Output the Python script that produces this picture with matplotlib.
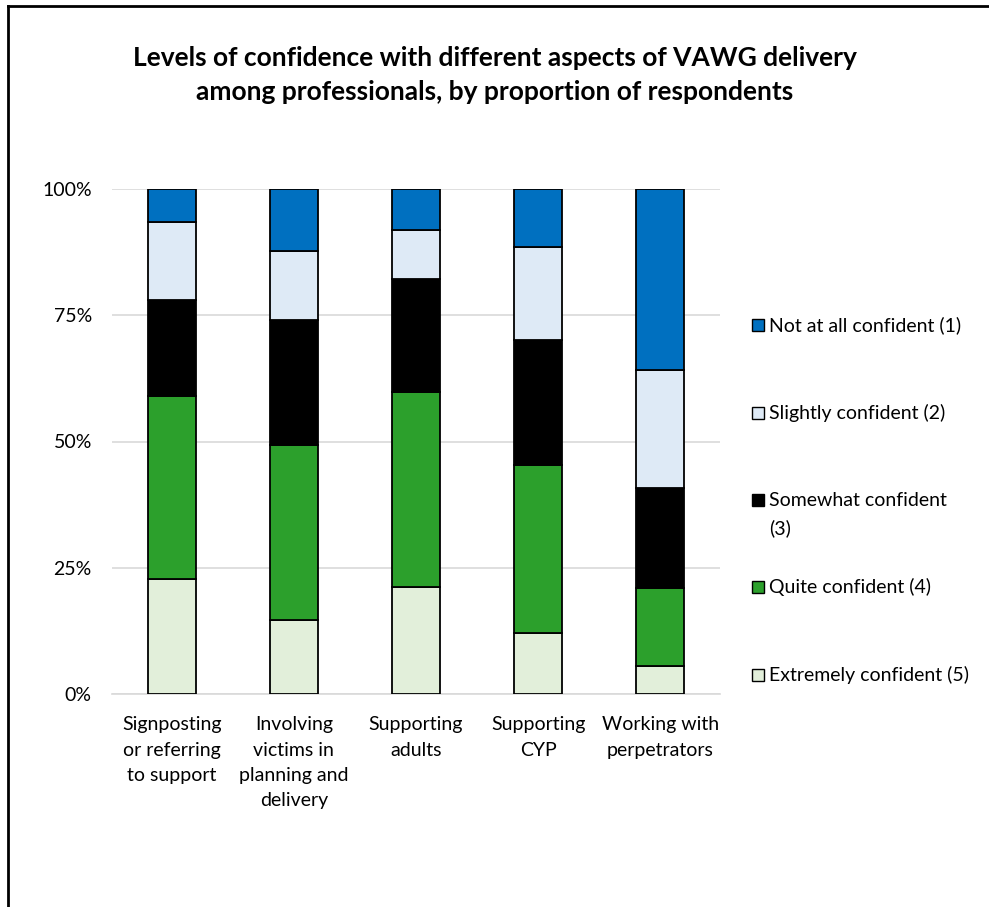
import matplotlib
matplotlib.use('Agg')
import matplotlib.pyplot as plt
from matplotlib.lines import Line2D
from matplotlib.patches import Rectangle
import numpy as np

plt.rcParams['font.family'] = ['Lato', 'DejaVu Sans']

# ---- data (percent of respondents) ----
categories = [
    'Signposting\nor referring\nto support',
    'Involving\nvictims in\nplanning and\ndelivery',
    'Supporting\nadults',
    'Supporting\nCYP',
    'Working with\nperpetrators',
]
extremely = [22.7, 14.6, 21.1, 12.1, 5.6]
quite = [36.4, 34.7, 38.8, 33.3, 15.3]
somewhat = [19.0, 24.7, 22.3, 24.7, 19.9]
slightly = [15.3, 13.8, 9.6, 18.5, 23.3]
not_at_all = [6.6, 12.2, 8.2, 11.4, 35.9]

series_labels = [
    'Extremely confident (5)',
    'Quite confident (4)',
    'Somewhat confident\n(3)',
    'Slightly confident (2)',
    'Not at all confident (1)',
]
series_values = [extremely, quite, somewhat, slightly, not_at_all]
series_colors = ['#E2EFDA', '#2CA02C', '#000000', '#DEEAF6', '#0070C0']

W, H = 989, 907
fig = plt.figure(figsize=(W / 100, H / 100), dpi=100)
ax = fig.add_axes([112 / W, 1 - 694 / H, 608 / W, 505 / H])

x = np.arange(len(categories))
bottom = np.zeros(len(categories))
for vals, col in zip(series_values, series_colors):
    ax.bar(x, vals, width=0.39, bottom=bottom, color=col,
           edgecolor='black', linewidth=1.3, zorder=3)
    bottom += np.array(vals)

ax.set_xlim(-0.49, 4.49)
ax.set_ylim(0, 100)
ax.set_yticks([0, 25, 50, 75, 100])
ax.set_yticklabels(['0%', '25%', '50%', '75%', '100%'], fontsize=14)
ax.set_xticks(x)
ax.set_xticklabels(categories, fontsize=14, linespacing=1.6)
ax.tick_params(length=0)
ax.tick_params(axis='y', pad=14.5)
ax.tick_params(axis='x', pad=16)
ax.grid(axis='y', color='#D9D9D9', linewidth=1.2, zorder=0)
for s in ('top', 'right', 'left'):
    ax.spines[s].set_visible(False)
ax.spines['bottom'].set_color('#D9D9D9')
ax.spines['bottom'].set_linewidth(1.2)

fig.text(0.5, 1 - 75 / H, 'Levels of confidence with different aspects of VAWG delivery\n'
         'among professionals, by proportion of respondents',
         ha='center', va='center', fontsize=19, fontweight='bold', linespacing=1.45)

# ---- legend drawn by hand, top entry first ----
legend_y = [325, 413, 500, 587, 675]
for lbl, col, py in zip(series_labels[::-1], series_colors[::-1], legend_y):
    fig.patches.append(Rectangle((752 / W, 1 - (py + 6) / H), 12 / W, 12 / H,
                                 transform=fig.transFigure, facecolor=col,
                                 edgecolor='black', linewidth=1.0))
    for i, line in enumerate(lbl.split('\n')):
        fig.text(769 / W, 1 - (py + 28 * i) / H, line, ha='left', va='center', fontsize=14)

# ---- outer chart border (left and top edges visible) ----
fig.add_artist(Line2D([8 / W, 8 / W], [0, 1 - 6 / H], color='black', linewidth=2))
fig.add_artist(Line2D([8 / W, 1], [1 - 6 / H, 1 - 6 / H], color='black', linewidth=2))

fig.savefig('out.png', dpi=100)
